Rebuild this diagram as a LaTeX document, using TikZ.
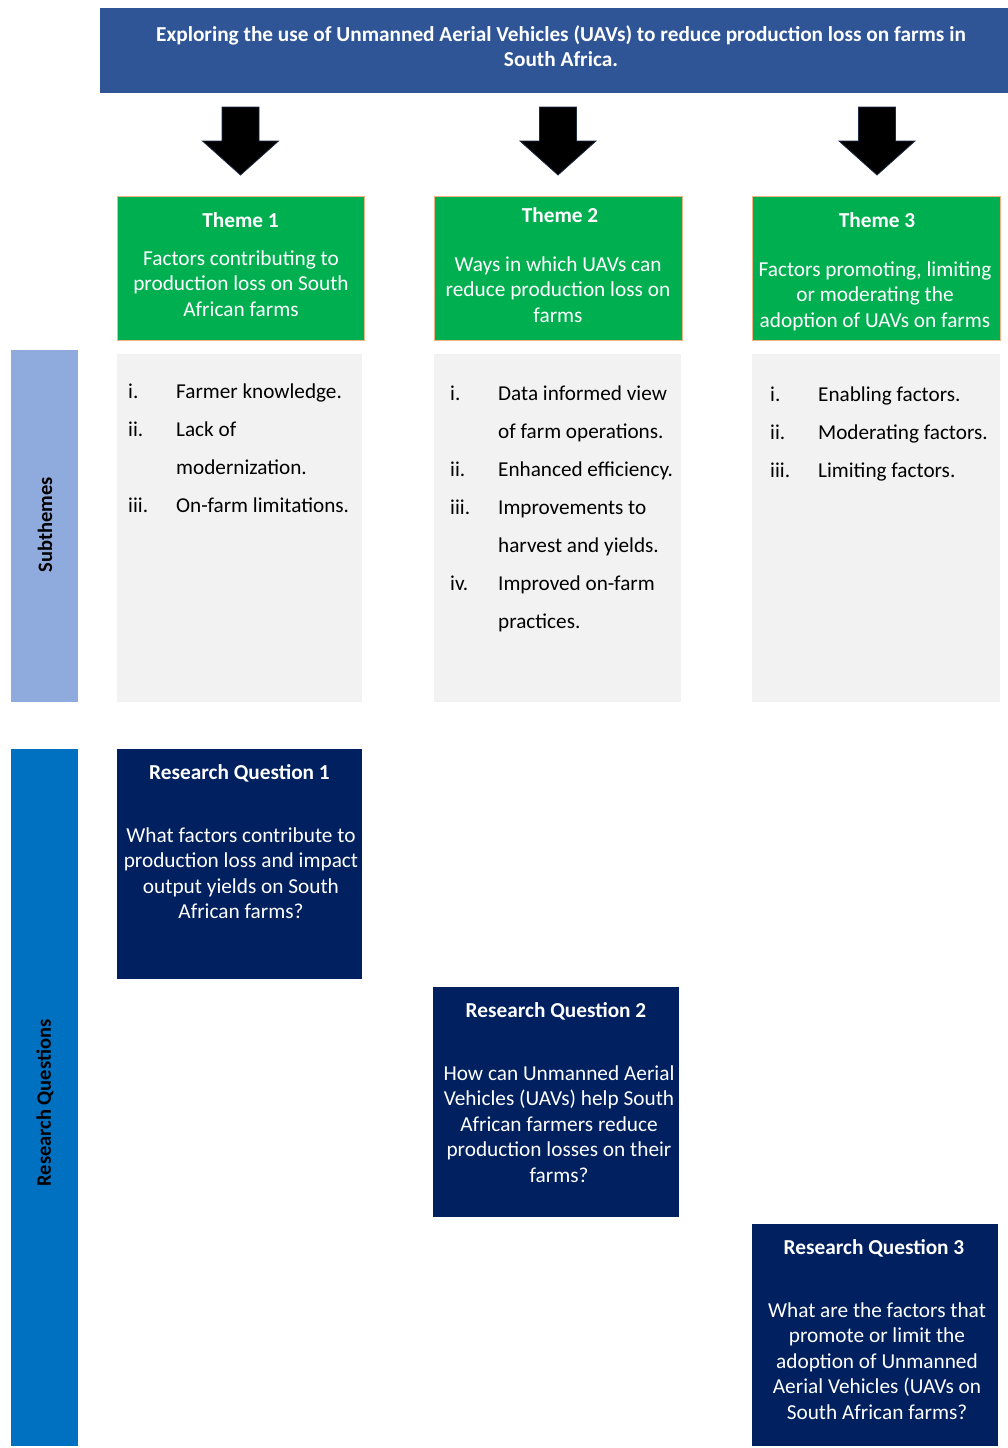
\documentclass[tikz,border=0pt]{standalone}
\usepackage{fontspec}
\setmainfont{Carlito}
\usepackage{array}
\definecolor{bannerblue}{HTML}{2F5597}
\definecolor{themegreen}{HTML}{00B050}
\definecolor{themeedge}{HTML}{F4B183}
\definecolor{subbar}{HTML}{8FAADC}
\definecolor{rqbar}{HTML}{0070C0}
\definecolor{rqnavy}{HTML}{002060}
\definecolor{listgray}{HTML}{F2F2F2}
\definecolor{arrowedge}{HTML}{1F2A44}
\newcommand\ctab[1]{\begin{tabular}[t]{@{}c@{}}#1\end{tabular}}
\newcommand\ltab[1]{\begin{tabular}[t]{@{}p{48pt}@{}l@{}}#1\end{tabular}}
\begin{document}
\begin{tikzpicture}[x=1pt,y=-1pt,
  rbox/.style={inner sep=0pt,outer sep=0pt,anchor=north west},
  themebox/.style={rbox,fill=themegreen,draw=themeedge,line width=1pt},
  listbox/.style={rbox,fill=listgray},
  rqbox/.style={rbox,fill=rqnavy},
  whitetitle/.style={text=white,font=\fontsize{21.3}{25.5}\selectfont\bfseries,inner sep=0pt,anchor=base},
  whitebody/.style={text=white,font=\fontsize{21.3}{25.5}\selectfont,inner sep=0pt,anchor=base},
  listtext/.style={text=black,font=\fontsize{21.2}{38}\selectfont,inner sep=0pt,anchor=base west},
  sidelabel/.style={text=black,font=\fontsize{20.5}{24}\selectfont\bfseries,inner sep=0pt,rotate=90},
  blockarr/.style={fill=black,draw=arrowedge,line width=0.8pt,line join=miter}]
\useasboundingbox (0,0) rectangle (1008,1448);

% banner
\node[rbox,fill=bannerblue,minimum width=908pt,minimum height=85pt] (banner) at (100,8) {};
\node[whitetitle] (bannertext) at (561,41) {\ctab{Exploring the use of Unmanned Aerial Vehicles (UAVs) to reduce production loss on farms in\\South Africa.}};

% block arrows
\foreach \cx/\nm in {240.5/a1,558/a2,877/a3}{
  \draw[blockarr] (\cx,107) ++(-18.5,0) coordinate (\nm) -- ++(37,0) -- ++(0,34) -- ++(19.5,0) -- ++(-38,34) -- ++(-38,-34) -- ++(19.5,0) -- cycle;
}

% theme boxes
\node[themebox,minimum width=247pt,minimum height=144pt] (t1) at (117,196) {};
\node[themebox,minimum width=248pt,minimum height=144pt] (t2) at (434,196) {};
\node[themebox,minimum width=248pt,minimum height=144pt] (t3) at (752,196) {};
\node[whitetitle] (t1title) at (240.5,227) {Theme 1};
\node[whitebody] (t1body) at (241,265) {\ctab{Factors contributing to\\production loss on South\\African farms}};
\node[whitetitle] (t2title) at (560,222) {Theme 2};
\node[whitebody] (t2body) at (558,271) {\ctab{Ways in which UAVs can\\reduce production loss on\\farms}};
\node[whitetitle] (t3title) at (877,227) {Theme 3};
\node[whitebody] (t3body) at (875,276) {\ctab{Factors promoting, limiting\\or moderating the\\adoption of UAVs on farms}};

% side bars
\node[rbox,fill=subbar,minimum width=67pt,minimum height=352pt] (subbar) at (11,350) {};
\node[sidelabel] (sublabel) at (45,525) {Subthemes};
\node[rbox,fill=rqbar,minimum width=67pt,minimum height=697pt] (rqbar) at (11,749) {};
\node[sidelabel] (rqlabel) at (45,1103) {Research Questions};

% subtheme lists
\node[listbox,minimum width=245pt,minimum height=348pt] (l1) at (117,354) {};
\node[listbox,minimum width=247pt,minimum height=348pt] (l2) at (434,354) {};
\node[listbox,minimum width=248pt,minimum height=348pt] (l3) at (752,354) {};
\node[listtext] (l1text) at (128,398) {\ltab{i. & Farmer knowledge.\\ ii. & Lack of\\ & modernization.\\ iii. & On-farm limitations.}};
\node[listtext] (l2text) at (450,400) {\ltab{i. & Data informed view\\ & of farm operations.\\ ii. & Enhanced efficiency.\\ iii. & Improvements to\\ & harvest and yields.\\ iv. & Improved on-farm\\ & practices.}};
\node[listtext] (l3text) at (770,401) {\ltab{i. & Enabling factors.\\ ii. & Moderating factors.\\ iii. & Limiting factors.}};

% research questions
\node[rqbox,minimum width=245pt,minimum height=230pt] (rq1) at (117,749) {};
\node[whitetitle] (rq1title) at (239.5,779) {Research Question 1};
\node[whitebody] (rq1body) at (241,842) {\ctab{What factors contribute to\\production loss and impact\\output yields on South\\African farms?}};
\node[rqbox,minimum width=246pt,minimum height=230pt] (rq2) at (433,987) {};
\node[whitetitle] (rq2title) at (556,1017) {Research Question 2};
\node[whitebody] (rq2body) at (559,1080) {\ctab{How can Unmanned Aerial\\Vehicles (UAVs) help South\\African farmers reduce\\production losses on their\\farms?}};
\node[rqbox,minimum width=246pt,minimum height=222pt] (rq3) at (752,1224) {};
\node[whitetitle] (rq3title) at (874,1254) {Research Question 3};
\node[whitebody] (rq3body) at (877,1317) {\ctab{What are the factors that\\promote or limit the\\adoption of Unmanned\\Aerial Vehicles (UAVs on\\South African farms?}};
\end{tikzpicture}
\end{document}
